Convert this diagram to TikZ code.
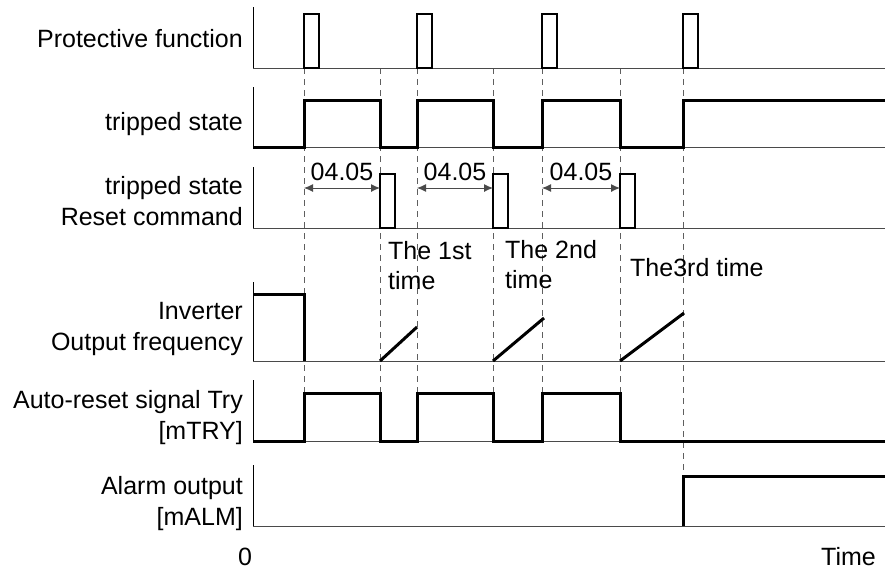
\documentclass[tikz,border=0pt]{standalone}
\usepackage{fontspec}
\setmainfont{Liberation Sans}
\usepackage{tikz}
\usetikzlibrary{arrows.meta,positioning}
\definecolor{Guide}{HTML}{5F5F5F}
\definecolor{Zero}{HTML}{4A4A4A}

\begin{document}
\begin{tikzpicture}[x=1pt,y=-1pt,
    rowname/.style={anchor=base east,align=right,inner sep=0pt,font=\fontsize{25}{31}\selectfont},
    note/.style={anchor=base west,align=left,inner sep=0pt,font=\fontsize{25}{30}\selectfont},
    yaxis/.style={line width=1pt,draw=black},
    zero/.style={line width=1pt,draw=Zero},
    signal/.style={line width=3pt,draw=black},
    pulse/.style={line width=2.4pt,draw=black},
    guide/.style={line width=0.9pt,draw=Guide,dash pattern=on 6pt off 5pt},
    span/.style={{Latex[length=9pt,width=8pt]}-{Latex[length=9pt,width=8pt]},line width=0.9pt,draw=Zero}
]
\useasboundingbox (0,0) rectangle (885,571);

% guide lines
\draw[guide] (304,68) -- (304,393);
\draw[guide] (380,68) -- (380,393);
\draw[guide] (417,68) -- (417,393);
\draw[guide] (493,68) -- (493,393);
\draw[guide] (542,68) -- (542,393);
\draw[guide] (620,68) -- (620,393);
\draw[guide] (683,68) -- (683,476);

% row names (base = last line)
\node[rowname] (prot) at (243,47) {Protective function};
\node[rowname] (trip) at (243,130) {tripped state};
\node[rowname] (reset) at (243,225) {tripped state\\Reset command};
\node[rowname] (freq) at (243,350) {Inverter\\Output frequency};
\node[rowname] (try) at (243,439) {Auto-reset signal Try\\{}[mTRY]};
\node[rowname] (alm) at (243,525) {Alarm output\\{}[mALM]};

% axes and zero lines
\draw[yaxis] (253,7) -- (253,68);
\draw[yaxis] (253,87) -- (253,147);
\draw[yaxis] (253,167) -- (253,228);
\draw[yaxis] (253,282) -- (253,361);
\draw[yaxis] (253,380) -- (253,441);
\draw[yaxis] (253,465) -- (253,526);
\draw[zero] (253,68) -- (885,68);
\draw[zero] (253,147) -- (885,147);
\draw[zero] (253,228) -- (885,228);
\draw[zero] (253,361) -- (885,361);
\draw[zero] (253,441) -- (885,441);
\draw[zero] (253,526) -- (885,526);

% protective function
\draw[pulse] (304,68) rectangle (319,14);
\draw[pulse] (417,68) rectangle (432,14);
\draw[pulse] (542,68) rectangle (557,14);
\draw[pulse] (683,68) rectangle (698,14);

% tripped state
\draw[signal] (253,147) -- (304,147) -- (304,100) -- (380,100) -- (380,147)
  -- (417,147) -- (417,100) -- (493,100) -- (493,147) -- (542,147) -- (542,100)
  -- (620,100) -- (620,147) -- (683,147) -- (683,100) -- (885,100);

% reset command
\draw[pulse] (380,228) rectangle (395,174);
\draw[pulse] (493,228) rectangle (508,174);
\draw[pulse] (620,228) rectangle (635,174);

\coordinate (w1a) at (304,188);
\coordinate (w1b) at (380,188);
\coordinate (w2a) at (417,188);
\coordinate (w2b) at (493,188);
\coordinate (w3a) at (542,188);
\coordinate (w3b) at (620,188);
\draw[span] (w1a) -- (w1b) node[midway,above=7pt,inner sep=0pt,font=\fontsize{25}{30}\selectfont] (d1) {04.05};
\draw[span] (w2a) -- (w2b) node[midway,above=7pt,inner sep=0pt,font=\fontsize{25}{30}\selectfont] (d2) {04.05};
\draw[span] (w3a) -- (w3b) node[midway,above=7pt,inner sep=0pt,font=\fontsize{25}{30}\selectfont] (d3) {04.05};

\node[note] (first) at (388,289) {The 1st\\time};
\node[note] (second) at (505,288) {The 2nd\\time};
\node[note] (third) at (630,276) {The3rd time};

% output frequency
\draw[signal] (253,294) -- (304,294) -- (304,361);
\draw[signal] (380,361) -- (417,327);
\draw[signal] (493,361) -- (544,318);
\draw[signal] (620,361) -- (684,313);

% auto-reset signal
\draw[signal] (253,441) -- (304,441) -- (304,393) -- (380,393) -- (380,441)
  -- (417,441) -- (417,393) -- (493,393) -- (493,441) -- (542,441) -- (542,393)
  -- (620,393) -- (620,441) -- (885,441);

% alarm output
\draw[signal] (683,526) -- (683,476) -- (885,476);

\node[note,anchor=base] (origin) at (245,565) {0};
\node[note,anchor=base east] (time) at (876,565) {Time};
\end{tikzpicture}
\end{document}
